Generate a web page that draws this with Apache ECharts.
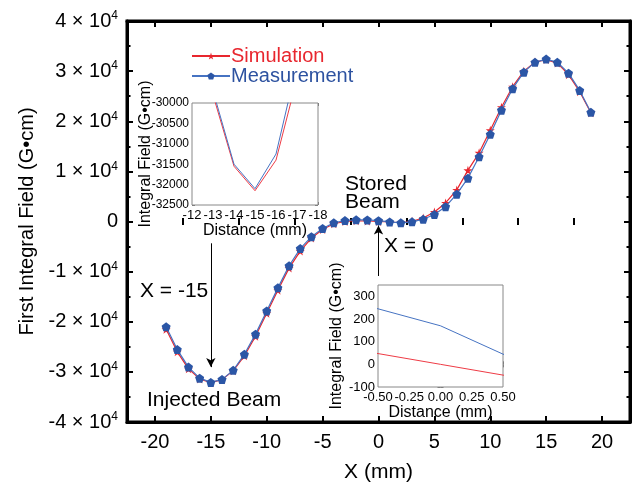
<!DOCTYPE html>
<html>
<head>
<meta charset="utf-8">
<script src="https://cdn.jsdelivr.net/npm/echarts@6/dist/echarts.min.js"></script>
<style>
  html, body { margin: 0; padding: 0; background: #fff; }
  #main { width: 638px; height: 488px; }
</style>
</head>
<body>
<div id="main"></div>
<script>
  // X (mm)
  var xs = [-19, -18, -17, -16, -15, -14, -13, -12, -11, -10, -9, -8, -7, -6, -5, -4, -3, -2, -1, 0,
            1, 2, 3, 4, 5, 6, 7, 8, 9, 10, 11, 12, 13, 14, 15, 16, 17, 18, 19];
  // First integral field (G*cm)
  var sim = [-21500, -26000, -29400, -31400, -32150, -31550, -29800, -26800, -22900, -18300,
             -13700, -9300, -5900, -3300, -1600, -450, 0, 150, 95, 0,
             -95, -250, 50, 700, 1900, 3700, 6300, 10200, 13700, 18200,
             22800, 26900, 30000, 31800, 32300, 31600, 29300, 25900, 21700];
  var meas = [-21000, -25550, -29050, -31250, -32100, -31500, -29700, -26480, -22470, -17850,
              -13240, -8830, -5400, -3020, -1380, -260, 200, 340, 320, 170,
              -80, -260, -60, 450, 1400, 2950, 5450, 8650, 12900, 17400,
              22200, 26500, 29800, 31760, 32400, 31760, 29600, 26150, 21800];
  var majorX = [-20, -15, -10, -5, 0, 5, 10, 15, 20];
  var minorX = [-17.5, -12.5, -7.5, -2.5, 2.5, 7.5, 12.5, 17.5];

  var RED = '#e8262e', BLUE = '#2b56a6', BLUE_LINE = '#4673c2';
  var FONT = "'Liberation Sans', Arial, sans-serif";
  var STAR = 'path://M50,0 L61,35 L98,35 L68,57 L79,91 L50,70 L21,91 L32,57 L2,35 L39,35 Z';
  var PENT = 'path://M50,2 L97,36 L79,92 L21,92 L3,36 Z';

  function pairs(ys) {
    var out = [];
    for (var i = 0; i < xs.length; i++) out.push([xs[i], ys[i]]);
    return out;
  }

  var chart = echarts.init(document.getElementById('main'));

  var blackLine = { show: true, onZero: false, lineStyle: { color: '#000', width: 3 } };
  var grayTick = { show: true, inside: true, length: 3, lineStyle: { color: '#777', width: 1 } };
  var grayMinor = { show: true, splitNumber: 2, length: 2, lineStyle: { color: '#777', width: 1 } };
  var plainNum = function (v) { return String(v); };

  function mainX(pos, vals, len, withLabel) {
    return {
      type: 'value', gridIndex: 0, position: pos, min: -22.5, max: 22.5,
      axisLine: withLabel !== null ? blackLine : { show: false },
      axisTick: { show: true, inside: true, length: len, customValues: vals, lineStyle: { color: '#000', width: 2 } },
      axisLabel: withLabel ? { show: true, customValues: vals, fontSize: 20, color: '#000', fontFamily: FONT, margin: 10 } : { show: false },
      splitLine: { show: false }
    };
  }

  var option = {
    animation: false,
    textStyle: { fontFamily: FONT },
    grid: [
      { left: 127, right: 8, top: 21, bottom: 63, show: true, borderColor: '#000', borderWidth: 3 },
      { left: 192, top: 103, width: 126, height: 102, show: true, backgroundColor: '#fff', borderColor: '#888', borderWidth: 1, z: 5 },
      { left: 378, top: 285, width: 125, height: 102, show: true, backgroundColor: '#fff', borderColor: '#888', borderWidth: 1, z: 5 }
    ],
    legend: {
      orient: 'vertical', left: 186, top: 41, itemGap: 0, itemWidth: 38, itemHeight: 9,
      textStyle: { fontSize: 20, fontFamily: FONT, lineHeight: 18, padding: [0, 0, 0, -4] },
      data: [
        { name: 'Simulation', textStyle: { color: RED } },
        { name: 'Measurement', textStyle: { color: '#2d52a0' } }
      ]
    },
    xAxis: [
      (function () { var a = mainX('bottom', majorX, 6, true);
        a.name = 'X (mm)'; a.nameLocation = 'middle'; a.nameGap = 40;
        a.nameTextStyle = { fontSize: 21, color: '#000', fontFamily: FONT }; return a; })(),
      mainX('bottom', minorX, 3.5, null),
      mainX('top', majorX, 6, false),
      mainX('top', minorX, 3.5, null),
      {
        type: 'value', gridIndex: 1, position: 'bottom', inverse: true, min: -18, max: -12, interval: 1,
        axisLine: { show: false }, axisTick: grayTick, minorTick: grayMinor, splitLine: { show: false },
        axisLabel: { fontSize: 13, color: '#000', margin: 4, fontFamily: FONT, formatter: plainNum },
        name: 'Distance (mm)', nameLocation: 'middle', nameGap: 15,
        nameTextStyle: { fontSize: 16, color: '#000', fontFamily: FONT }
      },
      {
        type: 'value', gridIndex: 1, position: 'top', inverse: true, min: -18, max: -12, interval: 1,
        axisLine: { show: false }, axisTick: grayTick, minorTick: grayMinor, splitLine: { show: false },
        axisLabel: { show: false }
      },
      {
        type: 'value', gridIndex: 2, position: 'bottom', min: -0.5, max: 0.5, interval: 0.25,
        axisLine: { show: false }, axisTick: grayTick, minorTick: grayMinor, splitLine: { show: false },
        axisLabel: { fontSize: 13, color: '#000', margin: 4, fontFamily: FONT,
          formatter: function (v) { return v.toFixed(2); } },
        name: 'Distance (mm)', nameLocation: 'middle', nameGap: 15,
        nameTextStyle: { fontSize: 16, color: '#000', fontFamily: FONT }
      },
      {
        type: 'value', gridIndex: 2, position: 'top', min: -0.5, max: 0.5, interval: 0.25,
        axisLine: { show: false }, axisTick: grayTick, minorTick: grayMinor, splitLine: { show: false },
        axisLabel: { show: false }
      }
    ],
    yAxis: [
      {
        type: 'value', gridIndex: 0, position: 'left', min: -40000, max: 40000, interval: 10000,
        axisLine: blackLine,
        axisTick: { show: true, inside: true, length: 6, lineStyle: { color: '#000', width: 2 } },
        minorTick: { show: true, splitNumber: 2, length: 3.5, lineStyle: { color: '#000', width: 2 } },
        splitLine: { show: false },
        axisLabel: {
          margin: 9, color: '#000',
          formatter: function (v) {
            if (v === 0) return '{a|0}';
            return '{a|' + (v / 10000) + ' \u00d7 10}{s|4}';
          },
          rich: {
            a: { fontSize: 20, color: '#000', fontFamily: FONT },
            s: { fontSize: 12, color: '#000', fontFamily: FONT, padding: [0, 0, 10, 0] }
          }
        },
        name: 'First Integral Field (G\u2022cm)', nameLocation: 'middle', nameGap: 54,
        nameTextStyle: { fontSize: 20, color: '#000', fontFamily: FONT }
      },
      {
        type: 'value', gridIndex: 0, position: 'right', min: -40000, max: 40000, interval: 10000,
        axisLine: blackLine,
        axisTick: { show: true, inside: true, length: 6, lineStyle: { color: '#000', width: 2 } },
        minorTick: { show: true, splitNumber: 2, length: 3.5, lineStyle: { color: '#000', width: 2 } },
        splitLine: { show: false }, axisLabel: { show: false }
      },
      {
        type: 'value', gridIndex: 1, position: 'left', min: -32500, max: -30000, interval: 500,
        axisLine: { show: false }, axisTick: grayTick, minorTick: grayMinor, splitLine: { show: false },
        axisLabel: { fontSize: 12, color: '#000', margin: 3, fontFamily: FONT, formatter: plainNum },
        name: 'Integral Field (G\u2022cm)', nameLocation: 'middle', nameGap: 38, nameMoveOverlap: false,
        nameTextStyle: { fontSize: 16, color: '#000', fontFamily: FONT }
      },
      {
        type: 'value', gridIndex: 1, position: 'right', min: -32500, max: -30000, interval: 500,
        axisLine: { show: false }, axisTick: grayTick, minorTick: grayMinor, splitLine: { show: false },
        axisLabel: { show: false }
      },
      {
        type: 'value', gridIndex: 2, position: 'left', min: -100, max: 350, interval: 100,
        axisLine: { show: false }, axisTick: grayTick, minorTick: grayMinor, splitLine: { show: false },
        axisLabel: { fontSize: 13, color: '#000', margin: 3, fontFamily: FONT, showMaxLabel: false },
        name: 'Integral Field (G\u2022cm)', nameLocation: 'middle', nameGap: 33, nameMoveOverlap: false,
        nameTextStyle: { fontSize: 16, color: '#000', fontFamily: FONT }
      },
      {
        type: 'value', gridIndex: 2, position: 'right', min: -100, max: 350, interval: 100,
        axisLine: { show: false }, axisTick: grayTick, minorTick: grayMinor, splitLine: { show: false },
        axisLabel: { show: false }
      }
    ],
    series: [
      {
        name: 'Simulation', type: 'line', xAxisIndex: 0, yAxisIndex: 0, data: pairs(sim),
        symbol: STAR, symbolSize: 9, itemStyle: { color: RED }, lineStyle: { color: RED, width: 1.2 },
        z: 3
      },
      {
        name: 'Measurement', type: 'line', xAxisIndex: 0, yAxisIndex: 0, data: pairs(meas),
        symbol: PENT, symbolSize: 9, itemStyle: { color: BLUE }, lineStyle: { color: BLUE_LINE, width: 1.2 },
        z: 4,
        markLine: {
          silent: true, symbol: ['none', 'arrow'], symbolSize: [7, 9],
          label: { show: false },
          lineStyle: { color: '#000', width: 1, type: 'solid' },
          data: [
            [{ coord: [-15, -4350] }, { coord: [-15, -29050] }],
            [{ coord: [0, -10870] }, { coord: [0, -800] }]
          ]
        }
      },
      { name: 'sim1', type: 'line', xAxisIndex: 4, yAxisIndex: 2, data: pairs(sim), showSymbol: false,
        lineStyle: { color: '#ee3b45', width: 1 }, z: 6 },
      { name: 'meas1', type: 'line', xAxisIndex: 4, yAxisIndex: 2, data: pairs(meas), showSymbol: false,
        lineStyle: { color: BLUE_LINE, width: 1 }, z: 6 },
      { name: 'sim2', type: 'line', xAxisIndex: 6, yAxisIndex: 4, data: pairs(sim), showSymbol: false,
        lineStyle: { color: '#ee3b45', width: 1 }, z: 6 },
      { name: 'meas2', type: 'line', xAxisIndex: 6, yAxisIndex: 4, data: pairs(meas), showSymbol: false,
        lineStyle: { color: BLUE_LINE, width: 1 }, z: 6 }
    ],
    graphic: [
      { type: 'text', left: 140, top: 281, style: { text: 'X = -15', fontSize: 21, fontFamily: FONT, fill: '#000' } },
      { type: 'text', left: 147, top: 390, style: { text: 'Injected Beam', fontSize: 21, fontFamily: FONT, fill: '#000' } },
      { type: 'text', left: 345, top: 174, style: { text: 'Stored\nBeam', fontSize: 21, lineHeight: 18, align: 'center', fontFamily: FONT, fill: '#000' } },
      { type: 'text', left: 384, top: 236, style: { text: 'X = 0', fontSize: 21, fontFamily: FONT, fill: '#000' } }
    ]
  };

  chart.setOption(option);
</script>
</body>
</html>
